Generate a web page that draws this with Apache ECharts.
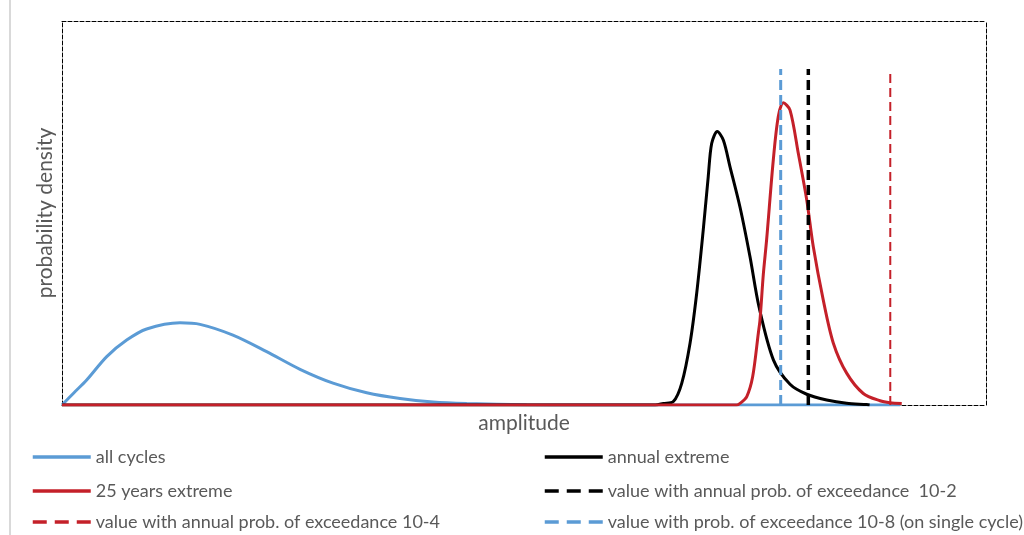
<!DOCTYPE html>
<html>
<head>
<meta charset="utf-8">
<script src="https://cdn.jsdelivr.net/npm/echarts@6/dist/echarts.min.js"></script>
<style>
  html, body { margin: 0; padding: 0; background: #fff; }
  #chart { width: 1024px; height: 535px; }
</style>
</head>
<body>
<div id="chart"></div>
<script>
// amplitude / density (relative units, 0-100)
var allCycles = [
  [0, 0], [1.3, 3.2], [2.67, 6.5], [4.84, 12.6], [7.0, 16.9], [9.16, 19.8], [12.77, 21.4],
  [14.94, 21.0], [18.5, 18.2], [22.15, 13.9], [25.76, 9.3], [29.33, 5.7], [32.98, 3.2],
  [36.58, 1.7], [40.15, 0.8], [43.8, 0.4], [50.3, 0.05], [55, 0], [90.7, 0]
];
var annualExtreme = [
  [0, 0], [64.2, 0], [65.08, 0.4], [66.16, 0.9], [67.07, 5.65], [67.97, 16.1], [68.69, 29.1],
  [69.4, 45.6], [69.94, 59.5], [70.31, 68.1], [70.92, 71.2], [71.57, 69.0], [72.29, 62.1],
  [73.38, 51.5], [74.46, 38.6], [75.43, 25.6], [77.0, 11.7], [78.79, 5.4], [80.6, 2.8],
  [82.76, 1.3], [84.92, 0.44], [87.09, 0.1], [87.4, 0]
];
var extreme25 = [
  [0, 0], [73.0, 0], [73.38, 0.4], [74.11, 2.2], [74.75, 7.4], [75.36, 18.7], [75.54, 22.1],
  [75.9, 34.0], [76.26, 43.1], [76.98, 63.8], [77.52, 75.1], [78.06, 78.7], [78.79, 76.8],
  [79.69, 65.5], [80.6, 53.4], [81.31, 41.2], [82.39, 27.3], [83.48, 16.1], [84.92, 8.3],
  [86.72, 3.0], [88.53, 1.1], [89.61, 0.6], [90.88, 0.4]
];
var lineTop = 87.5;
var pAnnual2 = 80.77;   // annual prob. of exceedance 10-2
var pAnnual4 = 89.64;   // annual prob. of exceedance 10-4
var pCycle8 = 77.78;    // prob. of exceedance 10-8 on single cycle

var names = [
  'all cycles', 'annual extreme', '25 years extreme',
  'value with annual prob. of exceedance  10-2',
  'value with annual prob. of exceedance 10-4',
  'value with prob. of exceedance 10-8 (on single cycle)'
];

var blue = '#5B9BD5', red = '#C42029', black = '#000000';
var gray = '#595959';
var font = 'Lato, "Open Sans", sans-serif';

function vline(x) { return [[x, 0], [x, lineTop]]; }

var myChart = echarts.init(document.getElementById('chart'));

var dashBorder = { show: true, onZero: false, lineStyle: { color: '#000', width: 1, type: [4, 2] } };
var hidden = { show: false };

// legend slots: [left, row centre, dashed?]
var slots = [[26, 457, 0], [538, 457, 0], [26, 491, 0], [538, 491, 1], [26, 522, 1], [538, 522, 1]];
var legends = names.map(function (n, i) {
  return {
    left: slots[i][0], top: slots[i][1] - 14,
    itemWidth: 58, itemHeight: 14,
    itemStyle: { opacity: 0 },
    lineStyle: { width: 3.5, type: slots[i][2] ? [14, 8] : 'solid' },
    textStyle: { fontSize: 18, color: gray, fontFamily: font },
    data: [n]
  };
});

var option = {
  animation: false,
  grid: { left: 62, top: 21, right: 38, bottom: 130 },
  xAxis: [{
    type: 'value', min: 0, max: 100,
    name: 'amplitude', nameLocation: 'middle', nameGap: 8,
    nameTextStyle: { fontSize: 21, color: gray, fontFamily: font },
    axisLine: dashBorder, axisTick: hidden, axisLabel: hidden, splitLine: hidden
  }, {
    type: 'value', min: 0, max: 100, position: 'top',
    axisLine: dashBorder, axisTick: hidden, axisLabel: hidden, splitLine: hidden
  }],
  yAxis: [{
    type: 'value', min: 0, max: 100,
    name: 'probability density', nameLocation: 'middle', nameGap: 6,
    nameTextStyle: { fontSize: 21, color: gray, fontFamily: font },
    axisLine: dashBorder, axisTick: hidden, axisLabel: hidden, splitLine: hidden
  }, {
    type: 'value', min: 0, max: 100, position: 'right',
    axisLine: dashBorder, axisTick: hidden, axisLabel: hidden, splitLine: hidden
  }],
  legend: legends,
  graphic: [{
    type: 'line', shape: { x1: 10, y1: 0, x2: 10, y2: 535 },
    style: { stroke: '#d9d9d9', lineWidth: 2 }
  }],
  series: [
    { name: names[0], type: 'line', data: allCycles, smooth: 0.3, symbol: 'none',
      lineStyle: { color: blue, width: 3 }, itemStyle: { color: blue }, z: 2 },
    { name: names[1], type: 'line', data: annualExtreme, smooth: 0.3, symbol: 'none',
      lineStyle: { color: black, width: 3 }, itemStyle: { color: black }, z: 3 },
    { name: names[2], type: 'line', data: extreme25, smooth: 0.3, symbol: 'none',
      lineStyle: { color: red, width: 3 }, itemStyle: { color: red }, z: 4 },
    { name: names[3], type: 'line', data: vline(pAnnual2), symbol: 'none',
      lineStyle: { color: black, width: 3.5, type: [10, 5] }, itemStyle: { color: black }, z: 5 },
    { name: names[4], type: 'line', data: vline(pAnnual4), symbol: 'none',
      lineStyle: { color: red, width: 2, type: [9, 5] }, itemStyle: { color: red }, z: 5 },
    { name: names[5], type: 'line', data: vline(pCycle8), symbol: 'none',
      lineStyle: { color: blue, width: 3, type: [10, 5] }, itemStyle: { color: blue }, z: 5 }
  ]
};

myChart.setOption(option);
</script>
</body>
</html>
